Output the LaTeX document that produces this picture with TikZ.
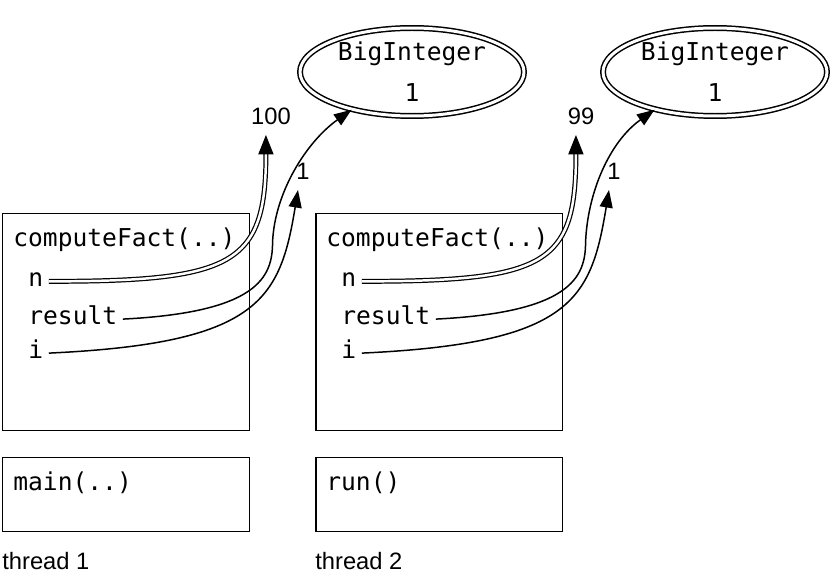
\documentclass[tikz,border=0pt]{standalone}
\usepackage{fontspec}
\setmainfont{Liberation Sans}
\setmonofont{DejaVu Sans Mono}
\usetikzlibrary{shapes.geometric}
\usetikzlibrary{arrows.meta}
\tikzstyle{frame} = [draw, line width=0.85pt, minimum width=4.94cm, anchor=north west, inner sep=0pt]
\tikzstyle{code} = [font=\fontsize{14}{17}\selectfont\ttfamily, anchor=base west, inner sep=0pt]
\tikzstyle{val} = [font=\fontsize{13.5}{16}\selectfont, anchor=south, inner sep=0pt, outer sep=6pt]
\tikzstyle{thread} = [font=\fontsize{13.5}{16}\selectfont, anchor=base west, inner sep=0pt]
\tikzstyle{bigint} = [ellipse, draw, double, line width=0.85pt, double distance=1.7pt, minimum width=4.48cm, minimum height=1.76cm, inner sep=0pt, align=center, font=\fontsize{14}{23.2}\selectfont\ttfamily]
\tikzstyle{ref} = [line width=0.85pt, -{Triangle[length=10pt,width=7.4pt]}, shorten <=3pt]
\tikzstyle{dref} = [line width=0.7pt, double, double distance=1.4pt, -{Triangle[length=11pt,width=8.6pt]}, shorten <=3pt]

\begin{document}
\begin{tikzpicture}[x=0.02cm, y=0.02cm]
	\useasboundingbox (0,0) rectangle (837,572);

	% thread 1
	\node [frame, minimum height=4.34cm] (frame1) at (2,359) {};
	\node [frame, minimum height=1.48cm] (main1) at (2,115) {};
	\node [code] (fact1) at (13,326) {computeFact(..)};
	\node [code] (n1) at (28,286) {n};
	\node [code] (result1) at (28,248) {result};
	\node [code] (i1) at (28,214) {i};
	\node [code] (mainlbl) at (13,82) {main(..)};
	\node [thread] (thread1) at (2,3) {thread 1};

	\node [bigint] (big1) at (412,500) {BigInteger\\1};
	\node [val] (v100) at (271,437) {100};
	\node [val] (vi1) at (303,382) {1};

	\draw [dref] (n1.mid east) .. controls +(190,0) and +(0,-130) .. (v100.255);
	\draw [ref] (result1.mid east) .. controls +(140,7) and +(0,-35) .. ++(155,77)
		.. controls +(2,50) and +(-45,-32) .. (big1.212);
	\draw [ref] (i1.mid east) .. controls +(215,10) and +(-18,-110) .. (vi1.255);

	% thread 2
	\node [frame, minimum height=4.34cm] (frame2) at (315,359) {};
	\node [frame, minimum height=1.48cm] (run2) at (315,115) {};
	\node [code] (fact2) at (326,326) {computeFact(..)};
	\node [code] (n2) at (341,286) {n};
	\node [code] (result2) at (341,248) {result};
	\node [code] (i2) at (341,214) {i};
	\node [code] (runlbl) at (326,82) {run()};
	\node [thread] (thread2) at (315,3) {thread 2};

	\node [bigint] (big2) at (715,500) {BigInteger\\1};
	\node [val] (v99) at (581,437) {99};
	\node [val] (vi2) at (614,382) {1};

	\draw [dref] (n2.mid east) .. controls +(190,0) and +(0,-130) .. (v99.255);
	\draw [ref] (result2.mid east) .. controls +(140,7) and +(0,-35) .. ++(155,77)
		.. controls +(2,50) and +(-45,-32) .. (big2.212);
	\draw [ref] (i2.mid east) .. controls +(215,10) and +(-18,-110) .. (vi2.255);

\end{tikzpicture}
\end{document}
